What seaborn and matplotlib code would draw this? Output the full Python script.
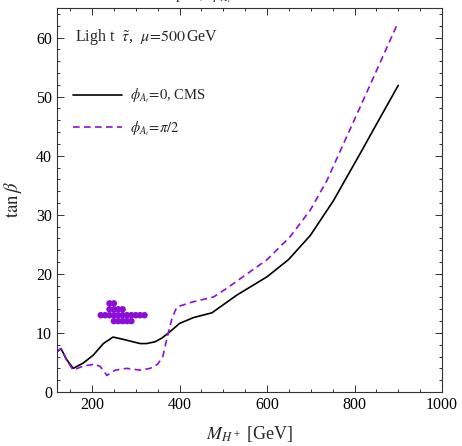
import numpy as np
import pandas as pd
import matplotlib
matplotlib.use("Agg")
import matplotlib.pyplot as plt
from matplotlib.ticker import MultipleLocator
import seaborn as sns

# --- data ---
mh_cms = [120, 129, 142, 157, 180, 203, 226, 248, 272, 310, 325, 344, 359, 375, 400,
          432, 474, 531, 600, 649, 699, 752, 817, 850, 900]
tb_cms = [6.8, 7.35, 5.5, 4.0, 4.9, 6.25, 8.2, 9.3, 8.9, 8.2, 8.2, 8.5, 9.1, 10.0, 11.6,
          12.6, 13.4, 16.4, 19.5, 22.4, 26.5, 32.4, 40.9, 45.3, 51.9]

mh_pi2 = [120, 129, 142, 157, 180, 207, 219, 234, 253, 279, 310, 333, 350, 362, 367,
          375, 383, 394, 428, 478, 509, 600, 653, 699, 737, 768, 820, 900]
tb_pi2 = [6.8, 7.35, 5.4, 3.7, 4.4, 4.7, 4.3, 2.8, 3.7, 4.0, 3.7, 4.0, 4.7, 6.0, 7.7,
          10.2, 12.5, 14.4, 15.2, 16.1, 17.6, 22.4, 26.3, 30.8, 35.8, 40.9, 49.4, 62.6]

pts_mh = [240, 250,
          240, 250, 260, 270,
          220, 230, 240, 250, 260, 270, 280, 290, 300, 310, 320,
          250, 260, 270, 280, 290]
pts_tb = [15, 15,
          14, 14, 14, 14,
          13, 13, 13, 13, 13, 13, 13, 13, 13, 13, 13,
          12, 12, 12, 12, 12]

purple = "#8a10d8"

sns.set_theme(style="ticks")
plt.rcParams["font.family"] = ["Liberation Serif", "DejaVu Serif"]
plt.rcParams["mathtext.fontset"] = "stix"

fig = plt.figure(figsize=(4.62, 4.46), dpi=100)
ax = fig.add_axes([57 / 462, 1 - 392 / 446, 385 / 462, 384 / 446])

df1 = pd.DataFrame({"mh": mh_cms, "tb": tb_cms})
df2 = pd.DataFrame({"mh": mh_pi2, "tb": tb_pi2})
dfp = pd.DataFrame({"mh": pts_mh, "tb": pts_tb})

sns.scatterplot(data=dfp, x="mh", y="tb", ax=ax, color=purple, s=22,
                edgecolor="none", legend=False, zorder=2)
sns.lineplot(data=df1, x="mh", y="tb", ax=ax, color="black", lw=1.2,
             label=r"$\phi_{A_t}\!=\!0$, CMS", sort=False, zorder=3)
sns.lineplot(data=df2, x="mh", y="tb", ax=ax, color=purple, lw=1.2,
             label=r"$\phi_{A_t}\!=\!\pi/2$", sort=False, zorder=3)
ax.lines[-1].set_linestyle((0, (4.0, 2.6)))

ax.set_xlim(120, 1000)
ax.set_ylim(0, 65)
ax.xaxis.set_major_locator(MultipleLocator(200))
ax.xaxis.set_minor_locator(MultipleLocator(50))
ax.yaxis.set_major_locator(MultipleLocator(10))
ax.yaxis.set_minor_locator(MultipleLocator(2))
ax.tick_params(which="both", direction="in", top=True, right=True, colors="#333333",
               labelcolor="black", labelsize=11.5, width=0.7)
ax.tick_params(which="major", length=5)
ax.tick_params(which="minor", length=2.5)
for sp in ax.spines.values():
    sp.set_linewidth(0.8)
    sp.set_color("#333333")

ax.set_xlabel(r"$M_{H^+}$ [GeV]", fontsize=13, labelpad=8)
ax.set_ylabel(r"$\tan\beta$", fontsize=13.5, labelpad=9)

ax.text(0.047, 0.924, r"Ligh t  $\tilde{\tau}$,  $\mu\!=\!500\,$GeV", transform=ax.transAxes,
        fontsize=11.5, va="center", ha="left")

leg = ax.legend(loc="upper left", bbox_to_anchor=(0.041, 0.795), frameon=False,
                fontsize=10.5, handlelength=3.4, handletextpad=0.5, labelspacing=0.95,
                borderpad=0, borderaxespad=0)

fig.text(0.37, 1.0 + 0.5 / 446, r"Exclusion plot,  $\phi_{A_t}$", fontsize=11,
         ha="center", va="baseline")

fig.savefig("out.png", dpi=100)
